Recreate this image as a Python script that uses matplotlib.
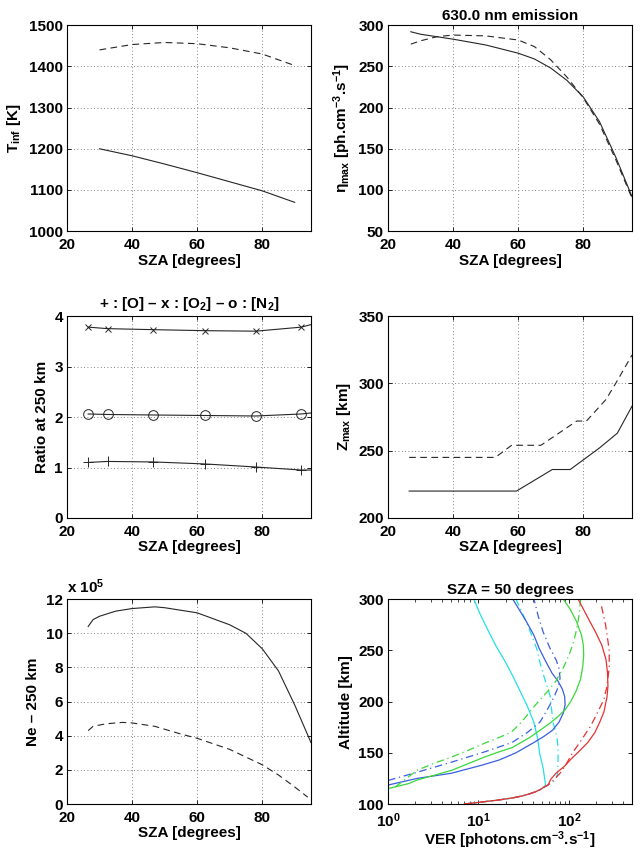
import numpy as np
import matplotlib
matplotlib.use("Agg")
import matplotlib.pyplot as plt

plt.rcParams['font.family'] = ['Liberation Sans', 'DejaVu Sans']
plt.rcParams['font.weight'] = 'bold'
plt.rcParams['font.size'] = 11
plt.rcParams['mathtext.fontset'] = 'custom'
plt.rcParams['mathtext.rm'] = 'Liberation Sans:bold'
plt.rcParams['mathtext.it'] = 'Liberation Sans:bold'
plt.rcParams['mathtext.bf'] = 'Liberation Sans:bold'
plt.rcParams['mathtext.default'] = 'rm'
plt.rcParams['axes.linewidth'] = 0.8

# --- T_inf vs SZA
sza_t = [30, 40, 50, 60, 70, 80, 90]
tinf_solid = [1200, 1183, 1163, 1142, 1120, 1098, 1070]
tinf_dash = [1440, 1453, 1458, 1455, 1445, 1430, 1402]

# --- 630.0 nm emission peak
sza_e = [27, 30, 35, 40, 50, 60, 65, 70, 75, 80, 85, 90, 95]
eta_solid = [292, 289, 286, 283, 276, 266, 259, 248, 233, 213, 183, 140, 92]
eta_dash = [277, 281, 286, 288, 287, 282, 274, 258, 237, 212, 180, 137, 90]

# --- Ratios at 250 km
sza_r = [26.5, 32.5, 46.5, 62.5, 78, 92, 95]
ratio_o = [1.10, 1.12, 1.11, 1.07, 1.01, 0.95, 0.95]
ratio_o2 = [3.78, 3.75, 3.73, 3.71, 3.70, 3.78, 3.83]
ratio_n2 = [2.06, 2.05, 2.04, 2.03, 2.02, 2.06, 2.08]

# --- Z_max vs SZA
sza_zs = [26.5, 59.5, 70.5, 76, 85, 90.5, 95]
zmax_solid = [220, 220, 236, 236, 252, 263, 283]
sza_zd = [26.5, 53, 58, 67, 78, 81, 87, 90, 95]
zmax_dash = [245, 245, 254, 254, 272, 272, 288, 300, 321]

# --- Ne at 250 km (x 1e5)
sza_ns = [26.5, 28, 30, 35, 40, 47, 50, 60, 70, 75, 80, 85, 90, 95]
ne_solid = [10.4, 10.8, 11.0, 11.3, 11.45, 11.55, 11.5, 11.2, 10.5, 10.0, 9.1, 7.8, 5.8, 3.6]
sza_nd = [26.5, 28, 32, 37, 40, 47, 55, 60, 70, 80, 85, 90, 94]
ne_dash = [4.3, 4.55, 4.7, 4.78, 4.75, 4.55, 4.1, 3.85, 3.2, 2.3, 1.7, 1.0, 0.4]

# --- VER profiles, SZA = 50 degrees
low_alt = [100, 102, 104, 106, 108, 110, 112, 114, 116]
low_ver = [7, 11, 17, 24, 31, 37, 43, 48, 52]
alt_cyan = low_alt + [118, 120, 125, 135, 150, 165, 180, 195, 210, 225, 240, 255, 270, 285, 300]
ver_cyan = low_ver + [55, 55, 54, 52, 47.5, 45, 41, 35, 29, 24, 19.5, 15.5, 12.7, 10.5, 8.9]
alt_cyan_d = low_alt + [118, 122, 126, 130, 143, 155, 165, 180, 195, 206, 220, 235, 252, 275, 297, 300]
ver_cyan_d = low_ver + [58, 68, 73, 75, 76, 76, 74, 67, 64, 62, 55, 49, 44, 35, 27, 26]
alt_red = low_alt + [118.5, 124, 130, 137, 143.6, 150, 160, 170, 180, 190, 205, 215, 228, 241, 255, 267, 283, 300]
ver_red = low_ver + [59, 63, 72, 90, 105, 125, 162, 195, 220, 245, 265, 271, 268, 258, 232, 200, 160, 127]
alt_red_d = low_alt + [120, 124, 130, 140, 150, 160, 176, 190, 202, 215, 234, 250, 260, 275, 293]
ver_red_d = low_ver + [62, 69, 80, 95, 110, 132, 174, 210, 244, 265, 280, 280, 270, 255, 230]
alt_blue = [118.5, 125, 130, 138, 143, 150, 160, 166, 172, 180, 189, 197, 205, 212, 220,
            228, 240, 252, 265, 280, 300]
ver_blue = [1.0, 2.1, 5.0, 11, 17, 26, 41, 53, 66, 78, 87, 91, 90, 85, 76,
            65, 55, 47, 41, 33, 24]
alt_blue_d = [123, 131, 141, 151, 160, 170, 180, 190, 197, 205, 215, 223, 232, 240,
              252, 268, 283, 297, 300]
ver_blue_d = [1.0, 2.1, 5.1, 11.8, 23.5, 35, 48, 56, 62, 69, 77, 80, 78, 73,
              62, 52, 46, 42, 41]
alt_green = [115, 120, 123.4, 133, 140, 146, 151, 155, 165, 172, 179, 185, 192, 200,
             210, 222, 235, 245, 255, 265, 278, 290, 300]
ver_green = [1.0, 1.7, 2.1, 5.1, 8, 11.8, 17, 23.5, 37, 48, 62, 75, 91, 105,
             120, 135, 143, 146, 145, 138, 122, 104, 87]
alt_green_d = [116.6, 125, 133, 140, 146, 153, 159.5, 165, 170, 180, 190, 200, 209,
               220, 233, 245, 255, 265, 275, 285, 294, 300]
ver_green_d = [1.2, 1.6, 2.1, 3.3, 5.1, 8, 11.8, 17, 23, 30, 37, 46, 57,
               72, 87, 100, 110, 118, 125, 130, 133, 135]

fig = plt.figure(figsize=(6.42, 8.5), dpi=100)
L1, L2, W = 0.1044, 0.6044, 0.380
ax1 = fig.add_axes([L1, 0.728, W, 0.2424])
ax2 = fig.add_axes([L2, 0.728, W, 0.2424])
ax3 = fig.add_axes([L1, 0.3906, W, 0.2376])
ax4 = fig.add_axes([L2, 0.3906, W, 0.2376])
ax5 = fig.add_axes([L1, 0.0541, W, 0.241])
ax6 = fig.add_axes([L2, 0.0541, W, 0.241])

def style(ax, grid=True):
    ax.tick_params(direction='in', top=True, right=True, length=3, width=0.6,
                   labelsize=11)
    ax.tick_params(axis='y', pad=3)
    ax.tick_params(axis='x', pad=5)
    ax.tick_params(which='minor', direction='in', top=True, right=True,
                   length=2, width=0.5)
    if grid:
        ax.grid(True, linestyle=(0, (1, 3)), color='0.35', linewidth=0.6)
    for lab in ax.get_xticklabels() + ax.get_yticklabels():
        lab.set_fontweight('bold')

dash = (0, (6, 4))
lc = '0.15'

ax1.plot(sza_t, tinf_solid, color=lc, lw=0.8)
ax1.plot(sza_t, tinf_dash, color=lc, lw=0.8, ls=dash)
ax1.set_xlim(20, 95)
ax1.set_ylim(1000, 1500)
ax1.set_xticks([20, 40, 60, 80])
ax1.set_xlabel('SZA [degrees]', fontweight='bold', labelpad=1)
ax1.set_ylabel('T$_{inf}$ [K]', fontweight='bold')
style(ax1)

ax2.plot(sza_e, eta_solid, color=lc, lw=0.8)
ax2.plot(sza_e, eta_dash, color=lc, lw=0.8, ls=dash)
ax2.set_xlim(20, 95)
ax2.set_ylim(50, 300)
ax2.set_xticks([20, 40, 60, 80])
ax2.set_xlabel('SZA [degrees]', fontweight='bold', labelpad=1)
ax2.set_ylabel(r'$\eta_{max}$ [ph.cm$^{-3}$.s$^{-1}$]', fontweight='bold')
ax2.set_title('630.0 nm emission', fontweight='bold', fontsize=11, pad=4)
style(ax2)

mk = slice(0, 6)
ax3.plot(sza_r, ratio_o2, color=lc, lw=0.8, marker='x', ms=5, mew=0.7,
         markevery=mk)
ax3.plot(sza_r, ratio_n2, color=lc, lw=0.8, marker='o', ms=7, mew=0.7,
         mfc='none', markevery=mk)
ax3.plot(sza_r, ratio_o, color=lc, lw=0.8, marker='+', ms=7, mew=0.7,
         markevery=mk)
ax3.set_xlim(20, 95)
ax3.set_ylim(0, 4)
ax3.set_xticks([20, 40, 60, 80])
ax3.set_yticks([0, 1, 2, 3, 4])
ax3.set_xlabel('SZA [degrees]', fontweight='bold', labelpad=1)
ax3.set_ylabel('Ratio at 250 km', fontweight='bold')
ax3.set_title('+ : [O] \u2013 x : [O$_2$] \u2013 o : [N$_2$]',
              fontweight='bold', fontsize=11, pad=6)
style(ax3)

ax4.plot(sza_zs, zmax_solid, color=lc, lw=0.8)
ax4.plot(sza_zd, zmax_dash, color=lc, lw=0.8, ls=dash)
ax4.set_xlim(20, 95)
ax4.set_ylim(200, 350)
ax4.set_xticks([20, 40, 60, 80])
ax4.set_yticks([200, 250, 300, 350])
ax4.set_xlabel('SZA [degrees]', fontweight='bold', labelpad=1)
ax4.set_ylabel('Z$_{max}$ [km]', fontweight='bold')
style(ax4)

ax5.plot(sza_ns, ne_solid, color=lc, lw=0.8)
ax5.plot(sza_nd, ne_dash, color=lc, lw=0.8, ls=dash)
ax5.set_xlim(20, 95)
ax5.set_ylim(0, 12)
ax5.set_xticks([20, 40, 60, 80])
ax5.set_yticks(range(0, 13, 2))
ax5.set_xlabel('SZA [degrees]', fontweight='bold', labelpad=1)
ax5.set_ylabel('Ne \u2013 250 km', fontweight='bold')
ax5.text(0.0, 1.015, 'x 10$^5$', transform=ax5.transAxes, ha='left',
         va='bottom', fontweight='bold', fontsize=11)
style(ax5)

cy, bl, gr, rd = '#22e0e8', '#3a5ee0', '#3ad83a', '#e83232'
lw6 = 0.9
dd = (0, (6, 3, 1, 3))
ax6.plot(ver_cyan, alt_cyan, color=cy, lw=lw6)
ax6.plot(ver_cyan_d, alt_cyan_d, color=cy, lw=lw6, ls=dd)
ax6.plot(ver_blue, alt_blue, color=bl, lw=lw6)
ax6.plot(ver_blue_d, alt_blue_d, color=bl, lw=lw6, ls=dd)
ax6.plot(ver_green, alt_green, color=gr, lw=lw6)
ax6.plot(ver_green_d, alt_green_d, color=gr, lw=lw6, ls=dd)
ax6.plot(ver_red, alt_red, color=rd, lw=lw6)
ax6.plot(ver_red_d, alt_red_d, color=rd, lw=lw6, ls=dd)
ax6.set_xscale('log')
ax6.set_xlim(1, 500)
ax6.set_ylim(100, 300)
ax6.set_yticks([100, 150, 200, 250, 300])
ax6.set_xlabel('VER [photons.cm$^{-3}$.s$^{-1}$]', fontweight='bold',
               labelpad=0)
ax6.set_ylabel('Altitude [km]', fontweight='bold')
ax6.set_title('SZA = 50 degrees', fontweight='bold', fontsize=11, pad=4)
style(ax6, grid=False)

fig.savefig('out.png', dpi=100)
